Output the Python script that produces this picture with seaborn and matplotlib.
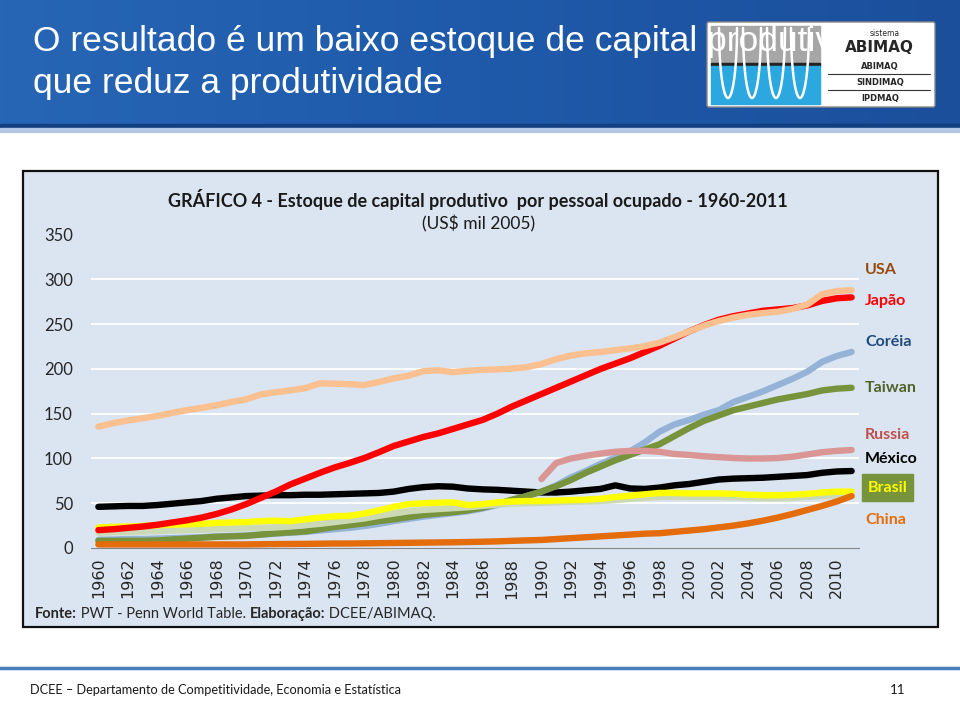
import numpy as np
import pandas as pd
import matplotlib
matplotlib.use("Agg")
import matplotlib.pyplot as plt
import seaborn as sns
from matplotlib.patches import Rectangle, FancyBboxPatch
from matplotlib.colors import LinearSegmentedColormap

# dados (US$ mil 2005 por pessoal ocupado)
anos = list(range(1960, 2012))

usa = [135.5, 139.5, 142.5, 145, 147.5, 151, 154, 156.5, 159.5, 163,
       166, 171.5, 174, 176, 178.5, 184, 183.5, 183, 182, 185.5,
       189.5, 192.5, 197.5, 198.5, 196.5, 198, 199, 199.5, 200.5, 202,
       205.5, 211, 215, 217.5, 219, 221, 223, 225.5, 229.5, 235.5,
       242, 248.5, 253.5, 257.5, 260.5, 262.5, 264, 267, 272, 283.5,
       287, 288]
japao = [20, 21, 22.5, 24, 26, 28.5, 31, 34, 38, 43,
         49, 56, 63, 71, 77.5, 84, 90, 95, 100.5, 107,
         114, 119, 124, 128, 133, 138, 143, 150, 158, 165,
         172, 179, 186, 193, 200, 206, 212, 219, 226, 234,
         242, 249, 255, 259, 262, 265, 266.5, 268, 271, 276,
         279, 280]
coreia = [9, 9.5, 10, 10, 10.5, 11, 11.5, 12, 13, 13.5,
          14, 15, 16, 17, 18, 19.5, 21, 22.5, 24.5, 27,
          30, 32.5, 35, 37, 39, 41, 44, 48, 53, 58,
          63, 70, 79, 86, 94, 101, 108, 118, 130, 138,
          143, 149, 154, 163, 169, 175, 182, 189, 197, 208,
          214.5, 219]
taiwan = [8, 8, 8, 8, 8.5, 9.5, 10.5, 11.5, 12.5, 13,
          13.5, 15, 16.5, 17.5, 18.5, 21, 23.5, 25.5, 27.5, 30,
          32, 34.5, 37, 38.5, 40, 42, 45, 49, 54, 58,
          63, 69, 76, 84, 91, 98, 104, 110, 116, 125,
          134, 142, 148, 154, 158, 162, 166, 169, 172, 176,
          178, 179]
russia = [np.nan] * 30 + [
          77, 95, 100, 103, 105.5, 107.5, 108.5, 108.5, 107.5, 105,
          104, 102.5, 101.5, 100.5, 100, 100, 100.5, 102, 104.5, 107,
          108.5, 109.5]
mexico = [46, 46.5, 47, 47, 48, 49.5, 51, 52.5, 55, 56.5,
          58, 58.5, 59, 59, 59.5, 59.5, 60, 60.5, 61, 61.5,
          63, 66, 68, 69, 68.5, 66.5, 65.5, 65, 64, 63,
          62, 62, 63, 64.5, 66, 70, 66.5, 66, 67.5, 70,
          71.5, 74, 76.5, 77.5, 78, 78.5, 79.5, 80.5, 81.5, 84,
          85.5, 86]
brasil = [23, 23.5, 24, 24.5, 25.5, 26, 26.5, 27, 28, 28.5,
          29, 30, 30.5, 30, 32, 34, 35.5, 36, 38.5, 42,
          46, 49, 50, 50.5, 51, 48, 49, 51, 52, 52.5,
          52.5, 53, 53.5, 54, 55, 57, 58.5, 60, 61.5, 61.5,
          61, 61, 61, 60.5, 59.5, 59, 59, 59.5, 60.5, 62,
          63, 63]
# serie clara sem rotulo (fica logo abaixo do Brasil)
outra = [17, 17.5, 18, 18.5, 19, 19.5, 20, 20.5, 21, 21.5,
         22, 22.5, 23, 24, 25.5, 27, 29, 31, 33, 36,
         38.5, 41, 42.5, 43.5, 44.5, 45.5, 47, 48.5, 49.5, 50,
         50.5, 51, 51.5, 52, 52.5, 53.5, 55, 56, 57, 57,
         57, 57, 57, 56.5, 56, 55.5, 55.5, 56, 57, 58,
         59, 60]
china = [4, 4, 4, 4, 4, 4, 4, 4, 4, 4,
         4, 4.2, 4.4, 4.5, 4.6, 4.8, 5, 5, 5.2, 5.4,
         5.6, 5.8, 6, 6.2, 6.4, 6.7, 7, 7.4, 8, 8.5,
         9, 10, 11, 12, 13, 14, 15, 16, 16.5, 18,
         19.5, 21, 23, 25, 27.5, 30.5, 34, 38, 42.5, 47,
         52, 58]

series = {"México": mexico, "Coréia": coreia, "Taiwan": taiwan, "outra": outra,
          "Russia": russia, "Brasil": brasil, "China": china,
          "Japão": japao, "USA": usa}
cores = {"USA": "#fac090", "Japão": "#ff0000", "Coréia": "#95b3d7",
         "Taiwan": "#77933c", "Russia": "#d99694", "México": "#000000",
         "Brasil": "#ffff00", "outra": "#cbd9b4", "China": "#e46c0a"}

df = pd.concat([pd.DataFrame({"ano": anos, "valor": v, "pais": k})
                for k, v in series.items()])
df = df.dropna()

sns.set_style("white")
plt.rcParams["font.family"] = ["Lato", "DejaVu Sans"]

fig = plt.figure(figsize=(9.6, 7.01), dpi=100)

# fundo do slide em coordenadas de pixel
bg = fig.add_axes([0, 0, 1, 1], zorder=0)
bg.axis("off")

# faixa azul do cabecalho
grad = np.linspace(0, 1, 256).reshape(1, -1)
cmap = LinearSegmentedColormap.from_list("hdr", ["#2765b5", "#1f5aaa", "#1b4f9c"])
bg.imshow(grad, extent=(0, 960, 127, 0), aspect="auto", cmap=cmap, zorder=1)
bg.add_patch(Rectangle((0, 124), 960, 4, color="#123f80", zorder=1))
bg.add_patch(Rectangle((0, 128), 960, 4, color="#b4c8e4", zorder=1))

# logo
bg.add_patch(FancyBboxPatch((709, 24), 224, 81, boxstyle="round,pad=2",
                            fc="white", ec="#888888", lw=1, zorder=2))
bg.add_patch(Rectangle((711, 26), 109, 37, color="#a6a6a6", zorder=3))
bg.add_patch(Rectangle((711, 63), 109, 3, color="#222222", zorder=3))
bg.add_patch(Rectangle((711, 66), 109, 38, color="#2ba8e0", zorder=3))
t = np.linspace(0, np.pi, 50)
for cx in [728, 752, 776, 800]:
    bg.plot(cx + 9 * np.cos(t), 28 + 70 * np.sin(t), color="white", lw=1.8, zorder=4)
bg.text(33, 42, "O resultado é um baixo estoque de capital produtivo", color="white",
        fontsize=25.5, family="Liberation Sans", va="center", zorder=5)
bg.text(33, 83, "que reduz a produtividade", color="white",
        fontsize=25.5, family="Liberation Sans", va="center", zorder=5)
bg.text(885, 33, "sistema", fontsize=5.5, ha="center", va="center", zorder=6,
        family="DejaVu Sans")
bg.text(879, 47, "ABIMAQ", fontsize=11, fontweight="bold", ha="center", va="center",
        zorder=6, family="DejaVu Sans")
for yy, nome in [(66, "ABIMAQ"), (82, "SINDIMAQ"), (98, "IPDMAQ")]:
    bg.text(880, yy, nome, fontsize=6, fontweight="bold", ha="center", va="center",
            zorder=6, family="DejaVu Sans")
bg.plot([828, 930], [74, 74], color="#333333", lw=0.8, zorder=6)
bg.plot([828, 930], [90, 90], color="#333333", lw=0.8, zorder=6)

# caixa do grafico
bg.add_patch(Rectangle((23, 171), 915, 456, fc="#dbe5f1", ec="#111111", lw=1.6, zorder=1))
bg.text(478, 199, "GRÁFICO 4 - Estoque de capital produtivo  por pessoal ocupado - 1960-2011",
        fontsize=13, fontweight="bold", ha="center", va="center", color="#1a1a1a", zorder=5)
bg.text(479, 224, "(US$ mil 2005)", fontsize=12.5, ha="center", va="center",
        color="#1a1a1a", zorder=5)

# rotulos das series
rotulos = [("USA", 270, "#984807"), ("Japão", 301, "#ff0000"), ("Coréia", 342, "#1f497d"),
           ("Taiwan", 388, "#4f6228"), ("Russia", 435, "#c0504d"), ("México", 459, "#000000"),
           ("China", 520, "#e46c0a")]
for nome, yy, c in rotulos:
    bg.text(865, yy, nome, fontsize=11.5, fontweight="bold", color=c, va="center", zorder=5)
bg.add_patch(Rectangle((862, 474), 51, 27, color="#77933c", zorder=4))
bg.text(887.5, 488, "Brasil", fontsize=11.5, fontweight="bold", color="#ffff00",
        ha="center", va="center", zorder=5)

# fonte
t1 = bg.text(35, 614, "Fonte:", fontsize=10.5, fontweight="bold", va="center", zorder=5)
t2 = bg.annotate(" PWT - Penn World Table. ", xy=(1, 0), xycoords=t1, va="bottom",
                 fontsize=10.5, zorder=5)
t3 = bg.annotate("Elaboração:", xy=(1, 0), xycoords=t2, va="bottom", fontsize=10.5,
                 fontweight="bold", zorder=5)
bg.annotate(" DCEE/ABIMAQ.", xy=(1, 0), xycoords=t3, va="bottom", fontsize=10.5, zorder=5)

# rodape
bg.plot([0, 960], [668, 668], color="#4a7ebb", lw=2.5, zorder=2)
bg.text(30, 690, "DCEE – Departamento de Competitividade, Economia e Estatística",
        fontsize=9.2, va="center", color="#1a1a1a")
bg.text(898, 690, "11", fontsize=9.5, ha="center", va="center", color="#1a1a1a")

bg.set_xlim(0, 960)
bg.set_ylim(701, 0)

# grafico de linhas
ax = fig.add_axes([91 / 960, 153 / 701, 768 / 960, 313.3 / 701], zorder=2)
ax.patch.set_alpha(0)
sns.lineplot(data=df, x="ano", y="valor", hue="pais", hue_order=list(series.keys()),
             palette=cores, linewidth=4.6, estimator=None, legend=False, ax=ax)
ax.set_xlim(1959.5, 2011.5)
ax.set_ylim(0, 350)
ax.set_yticks(range(0, 351, 50))
ax.set_xticks(range(1960, 2011, 2))
ax.set_xticks(np.arange(1959.5, 2012, 1), minor=True)
ax.set_xlabel("")
ax.set_ylabel("")
for s in ["top", "right", "left"]:
    ax.spines[s].set_visible(False)
ax.spines["bottom"].set_color("#868686")
ax.tick_params(axis="y", length=0, pad=13, labelsize=12, labelcolor="#262626")
ax.tick_params(axis="x", which="major", length=0, pad=7, labelsize=11.5,
               labelrotation=90, labelcolor="#262626")
ax.tick_params(axis="x", which="minor", length=4, width=1, color="#868686", direction="out")
for lab in ax.get_xticklabels():
    lab.set_family("DejaVu Sans")
ax.yaxis.grid(True, color="white", lw=1.3)
ax.set_axisbelow(True)
gl = ax.get_ygridlines()
gl[0].set_visible(False)
gl[-1].set_visible(False)

fig.savefig("out.png", dpi=100)
